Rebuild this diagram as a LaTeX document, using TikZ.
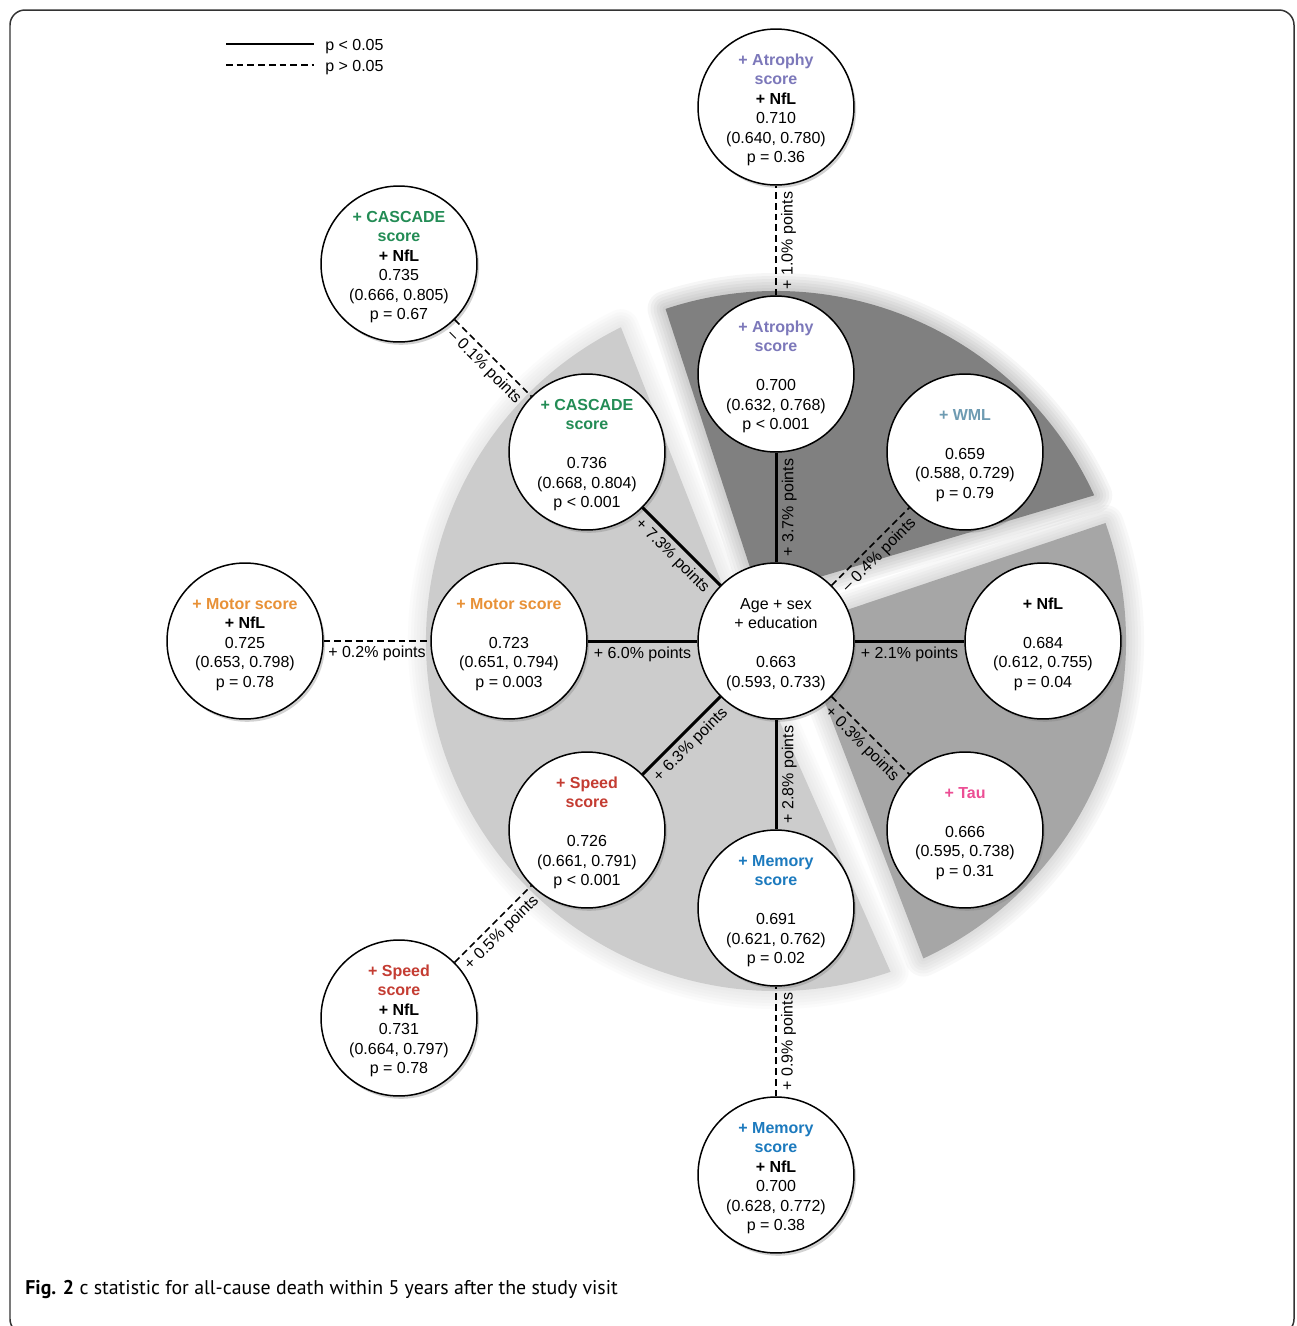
\documentclass[tikz,border=0pt]{standalone}
\usepackage{fontspec}
\setmainfont{Liberation Sans}
\newfontfamily\capfont{PT Sans}
\usetikzlibrary{shadows}

\definecolor{atrocol}{RGB}{124,120,186}
\definecolor{cascol}{RGB}{35,140,85}
\definecolor{wmlcol}{RGB}{110,155,178}
\definecolor{motcol}{RGB}{232,145,55}
\definecolor{spdcol}{RGB}{196,60,50}
\definecolor{memcol}{RGB}{28,122,190}
\definecolor{taucol}{RGB}{236,78,148}
\definecolor{lightsec}{RGB}{204,204,204}
\definecolor{midsec}{RGB}{166,166,166}
\definecolor{darksec}{RGB}{128,128,128}
\newcommand{\pad}{\rule{0pt}{10pt}}

\begin{document}
\begin{tikzpicture}
[x=0.02cm, y=-0.02cm, font=\fontsize{9.1}{11.1}\selectfont, line join=round,
disc/.style={circle, draw, fill=white, line width=0.85pt, minimum size=3.12cm, inner sep=0pt, align=center,
  drop shadow={shadow xshift=1.2pt, shadow yshift=-1.6pt, opacity=0.35}},
strong/.style={line width=1.7pt},
weak/.style={line width=0.85pt, dash pattern=on 3.8pt off 2.3pt},
gain/.style={sloped, below, pos=0.5, inner sep=2.5pt},
key/.style={anchor=west, inner sep=2.8pt, yshift=-1.5pt}]

\useasboundingbox (0,0) rectangle (1296,1326);
\clip (0,0) rectangle (1296,1326);
\fill[white] (0,0) rectangle (1296,1326);
\draw[black!80, line width=0.85pt, rounded corners=0.3cm] (10,10) rectangle (1294,1334);

% exploded pie behind the discs, arcs about (776,641)
\foreach \ax/\ay/\sa/\ea/\col in {748/650/-116.3/-289.1/lightsec, 759/595/-108.4/-24.6/darksec, 796/627/-19.7/65.1/midsec} {
  \foreach \w in {36,30,24,18,12,6}
    \draw[\col, line width=0.02cm*\w, opacity=0.07] (\ax,\ay) -- ([shift={(\sa:350)}]776,641) arc[start angle=\sa, end angle=\ea, radius=350] -- cycle;
  \fill[\col] (\ax,\ay) -- ([shift={(\sa:350)}]776,641) arc[start angle=\sa, end angle=\ea, radius=350] -- cycle;
}

% legend
\coordinate (ks) at (226,44);
\coordinate (kw) at (226,65);
\node[key] (kstrong) at (320,44) {p < 0.05};
\node[key] (kweak) at (320,65) {p > 0.05};
\draw[strong, shorten >=0.12cm] (ks) -- (ks -| kstrong.west);
\draw[weak, shorten >=0.12cm] (kw) -- (kw -| kweak.west);

% discs
\node[disc] (base) at (776,641) {\pad Age + sex\\+ education\\[\baselineskip]0.663\\(0.593, 0.733)};
\node[disc] (atro) at (776,374) {\pad\textcolor{atrocol}{\textbf{+ Atrophy}}\\\textcolor{atrocol}{\textbf{score}}\\[\baselineskip]0.700\\(0.632, 0.768)\\p < 0.001};
\node[disc] (atronfl) at (776,107) {\pad\textcolor{atrocol}{\textbf{+ Atrophy}}\\\textcolor{atrocol}{\textbf{score}}\\\textbf{+ NfL}\\0.710\\(0.640, 0.780)\\p = 0.36};
\node[disc] (wml) at (965,452) {\pad\textcolor{wmlcol}{\textbf{+ WML}}\\[\baselineskip]0.659\\(0.588, 0.729)\\p = 0.79};
\node[disc] (nfl) at (1043,641) {\pad\textbf{+ NfL}\\[\baselineskip]0.684\\(0.612, 0.755)\\p = 0.04};
\node[disc] (tau) at (965,830) {\pad\textcolor{taucol}{\textbf{+ Tau}}\\[\baselineskip]0.666\\(0.595, 0.738)\\p = 0.31};
\node[disc] (mem) at (776,908) {\pad\textcolor{memcol}{\textbf{+ Memory}}\\\textcolor{memcol}{\textbf{score}}\\[\baselineskip]0.691\\(0.621, 0.762)\\p = 0.02};
\node[disc] (memnfl) at (776,1175) {\pad\textcolor{memcol}{\textbf{+ Memory}}\\\textcolor{memcol}{\textbf{score}}\\\textbf{+ NfL}\\0.700\\(0.628, 0.772)\\p = 0.38};
\node[disc] (spd) at (587,830) {\pad\textcolor{spdcol}{\textbf{+ Speed}}\\\textcolor{spdcol}{\textbf{score}}\\[\baselineskip]0.726\\(0.661, 0.791)\\p < 0.001};
\node[disc] (spdnfl) at (399,1018) {\pad\textcolor{spdcol}{\textbf{+ Speed}}\\\textcolor{spdcol}{\textbf{score}}\\\textbf{+ NfL}\\0.731\\(0.664, 0.797)\\p = 0.78};
\node[disc] (mot) at (509,641) {\pad\textcolor{motcol}{\textbf{+ Motor score}}\\[\baselineskip]0.723\\(0.651, 0.794)\\p = 0.003};
\node[disc] (motnfl) at (245,641) {\pad\textcolor{motcol}{\textbf{+ Motor score}}\\\textbf{+ NfL}\\0.725\\(0.653, 0.798)\\p = 0.78};
\node[disc] (cas) at (587,452) {\pad\textcolor{cascol}{\textbf{+ CASCADE}}\\\textcolor{cascol}{\textbf{score}}\\[\baselineskip]0.736\\(0.668, 0.804)\\p < 0.001};
\node[disc] (casnfl) at (399,264) {\pad\textcolor{cascol}{\textbf{+ CASCADE}}\\\textcolor{cascol}{\textbf{score}}\\\textbf{+ NfL}\\0.735\\(0.666, 0.805)\\p = 0.67};

% gains in c statistic
\draw[strong] (base) -- (atro) node[gain] {+ 3.7\% points};
\draw[weak] (atro) -- (atronfl) node[gain] {+ 1.0\% points};
\draw[weak] (base) -- (wml) node[gain] {– 0.4\% points};
\draw[strong] (base) -- (nfl) node[gain] {+ 2.1\% points};
\draw[weak] (base) -- (tau) node[gain] {+ 0.3\% points};
\draw[strong] (mem) -- (base) node[gain] {+ 2.8\% points};
\draw[weak] (memnfl) -- (mem) node[gain] {+ 0.9\% points};
\draw[strong] (spd) -- (base) node[gain] {+ 6.3\% points};
\draw[weak] (spdnfl) -- (spd) node[gain] {+ 0.5\% points};
\draw[strong] (mot) -- (base) node[gain] {+ 6.0\% points};
\draw[weak] (motnfl) -- (mot) node[gain] {+ 0.2\% points};
\draw[strong] (cas) -- (base) node[gain] {+ 7.3\% points};
\draw[weak] (casnfl) -- (cas) node[gain] {– 0.1\% points};

% caption
\node[anchor=west, inner sep=0pt, font=\capfont\fontsize{11.3}{13}\selectfont] (cap) at (25,1289) {\textbf{Fig. 2} c statistic for all-cause death within 5 years after the study visit};
\end{tikzpicture}
\end{document}
